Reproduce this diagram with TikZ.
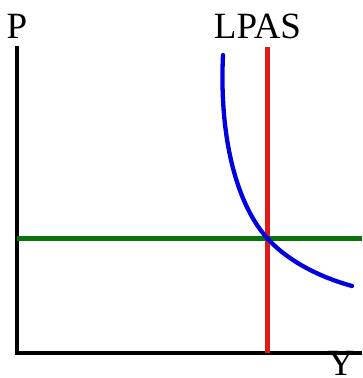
\documentclass[tikz,border=0pt]{standalone}
\usepackage{fontspec}
\setmainfont{Liberation Serif}
\definecolor{adblue}{RGB}{0,0,225}
\definecolor{lpasred}{RGB}{225,25,25}
\definecolor{srasgreen}{RGB}{10,115,10}
\usetikzlibrary{positioning}

\begin{document}
\begin{tikzpicture}[x=1pt, y=-1pt,
    axisline/.style={draw=black, line width=4.3pt, line join=miter},
    curveline/.style={line width=4.3pt},
    axislabel/.style={anchor=base, inner sep=0pt, font=\fontsize{37}{37}\selectfont}
  ]
    \useasboundingbox (0,0) rectangle (362,378);
    % axes
    \coordinate (top)    at (17,46);
    \coordinate (origin) at (17,353);
    \coordinate (right)  at (362,353);
    \draw[axisline] (top) -- (origin) -- (right);
    \node[axislabel] (plabel) at (17,38)    {P};
    \node[axislabel] (ylabel) at (341,375)  {Y};
    % long-run supply
    \coordinate (lpastop) at (267.5,47);
    \coordinate (lpasbot) at (267.5,353);
    \draw[curveline, lpasred] (lpastop) -- (lpasbot);
    \node[axislabel] (lpaslabel) at (257.5,38) {LPAS};
    % price level
    \coordinate (pleft)  at (17,238.5);
    \coordinate (pright) at (362,238.5);
    \draw[curveline, srasgreen] (pleft) -- (pright);
    % demand curve
    \coordinate (adtop) at (223,55);
    \coordinate (eq)    at (267.5,238.5);
    \coordinate (adend) at (352,286);
    \draw[curveline, adblue, line cap=round]
      (adtop) .. controls (219,140) and (237.5,205.5) .. (eq)
              .. controls (292.5,266) and (330,280) .. (adend);
  \end{tikzpicture}
\end{document}
